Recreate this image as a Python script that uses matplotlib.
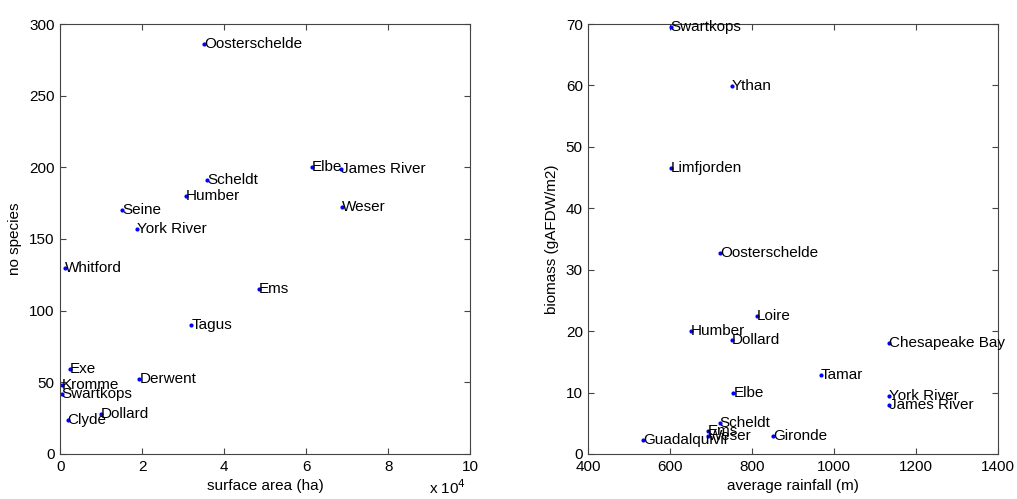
import matplotlib.pyplot as plt

plt.rcParams['font.family'] = ['Liberation Sans', 'DejaVu Sans']

# left panel: surface area vs number of species
names1 = ['Oosterschelde', 'Elbe', 'James River', 'Scheldt', 'Humber', 'Weser',
          'Seine', 'York River', 'Whitford', 'Ems', 'Tagus', 'Exe', 'Kromme',
          'Derwent', 'Swartkops', 'Dollard', 'Clyde']
area = [35100, 61300, 68400, 35900, 30700, 68600, 15100, 18600, 1200, 48500,
        32000, 2300, 400, 19300, 300, 9900, 1800]
species = [286, 200, 199, 191, 180, 172, 170, 157, 130, 115, 90, 59, 48, 52,
           42, 28, 24]

# right panel: rainfall vs biomass
names2 = ['Swartkops', 'Ythan', 'Limfjorden', 'Oosterschelde', 'Loire', 'Humber',
          'Dollard', 'Chesapeake Bay', 'Tamar', 'Elbe', 'York River',
          'James River', 'Scheldt', 'Ems', 'Weser', 'Gironde', 'Guadalquivir']
rain = [601, 750, 602, 721, 811, 651, 750, 1133, 967, 754, 1133, 1133, 720,
        691, 691, 851, 534]
biomass = [69.5, 59.9, 46.6, 32.7, 22.4, 20.0, 18.6, 18.0, 12.9, 9.9, 9.5, 7.9,
           5.1, 3.7, 2.9, 2.9, 2.3]

FS = 11

fig = plt.figure(figsize=(10.17, 4.99), dpi=100)
ax1 = fig.add_axes([0.0593, 0.0902, 0.4031, 0.8617])
ax2 = fig.add_axes([0.5785, 0.0902, 0.4031, 0.8617])


def style(ax):
    ax.tick_params(direction='in', top=True, right=True, labelsize=FS,
                   length=4, color='#444444', pad=4)
    for sp in ax.spines.values():
        sp.set_color('#444444')
        sp.set_linewidth(0.8)


ax1.plot(area, species, '.', color='blue', markersize=4)
for n, x, y in zip(names1, area, species):
    ax1.text(x, y, n, fontsize=FS, va='center', ha='left')
ax1.set_xlim(0, 100000)
ax1.set_ylim(0, 300)
ax1.set_xticks(range(0, 100001, 20000))
ax1.set_xticklabels(['0', '2', '4', '6', '8', '10'])
ax1.set_yticks(range(0, 301, 50))
ax1.set_xlabel('surface area (ha)', fontsize=FS, labelpad=4)
ax1.set_ylabel('no species', fontsize=FS, labelpad=5)
fig.text(466 / 1017, 0.004, r'x 10$^{4}$', fontsize=FS, ha='right', va='bottom')
style(ax1)

ax2.plot(rain, biomass, '.', color='blue', markersize=4)
for n, x, y in zip(names2, rain, biomass):
    ax2.text(x, y, n, fontsize=FS, va='center', ha='left')
ax2.set_xlim(400, 1400)
ax2.set_ylim(0, 70)
ax2.set_xticks(range(400, 1401, 200))
ax2.set_yticks(range(0, 71, 10))
ax2.set_xlabel('average rainfall (m)', fontsize=FS, labelpad=4)
ax2.set_ylabel('biomass (gAFDW/m2)', fontsize=FS, labelpad=5)
style(ax2)

fig.savefig('out.png', dpi=100)
